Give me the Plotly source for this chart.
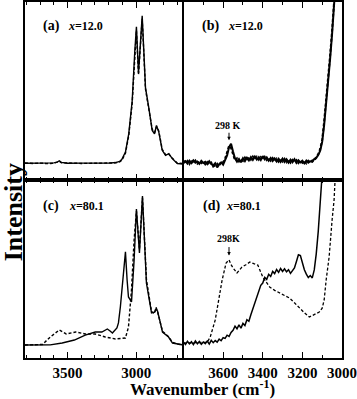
import plotly.graph_objects as go
from plotly.subplots import make_subplots

# ---------------- data ----------------
# panel (a): x=12.0, full range
a_w = [3810, 3750, 3700, 3650, 3600, 3575, 3560, 3545, 3500, 3400, 3300, 3200, 3150, 3120, 3105,
       3078, 3054, 3029, 3010, 2998, 2983, 2969, 2956, 2944, 2932, 2908, 2883, 2866, 2852, 2835,
       2810, 2786, 2762, 2737, 2700, 2655]
a_solid = [9.4, 9.5, 9.3, 9.4, 9.6, 10.0, 10.8, 9.9, 9.4, 9.5, 9.3, 9.5, 9.8, 10.5, 11.5,
           15.7, 25.9, 44.4, 72.2, 86.1, 60.2, 77.8, 92.2, 72.2, 51.9, 40.7, 27.8, 25.9, 30.6, 26.9,
           16.7, 13.9, 14.8, 12.0, 9.3, 9.0]
a_dash = [9.6, 9.3, 9.5, 9.2, 9.4, 9.9, 10.5, 9.7, 9.5, 9.3, 9.4, 9.3, 9.6, 10.2, 11.0,
          15.0, 25.0, 43.0, 70.5, 84.0, 59.0, 76.5, 90.5, 71.0, 51.0, 40.0, 28.5, 26.5, 30.0, 27.5,
          17.2, 14.2, 14.5, 12.3, 9.5, 9.2]

# panel (b): x=12.0, 3800-3000 region
b_w = [3800, 3790, 3780, 3770, 3760, 3750, 3740, 3730, 3720, 3710, 3700, 3690, 3680, 3670, 3660,
       3650, 3640, 3630, 3620, 3610, 3600, 3590, 3580, 3570, 3560, 3550, 3540, 3530, 3520, 3510,
       3500, 3490, 3480, 3470, 3460, 3450, 3440, 3430, 3420, 3410, 3400, 3390, 3380, 3370, 3360,
       3350, 3340, 3330, 3320, 3310, 3300, 3290, 3280, 3270, 3260, 3250, 3240, 3230, 3220, 3210,
       3200, 3190, 3180, 3170, 3160, 3150, 3140, 3130, 3120, 3110, 3100, 3090, 3080, 3070, 3060,
       3050, 3040, 3030]
b_solid = [9.8, 10.6, 9.2, 10.9, 9.5, 11.0, 9.7, 10.4, 9.1, 10.8, 9.6, 10.2, 8.9, 10.5, 9.0,
           8.2, 9.4, 7.1, 8.8, 9.9, 8.6, 11.2, 13.8, 18.5, 20.4, 16.0, 12.1, 10.3, 11.8, 10.0,
           12.2, 10.6, 12.5, 11.0, 12.9, 11.3, 13.1, 11.5, 12.8, 11.2, 13.4, 11.6, 12.7, 10.9, 12.4,
           10.7, 12.1, 10.4, 11.9, 10.2, 12.0, 10.1, 11.6, 9.8, 11.4, 10.0, 11.7, 9.6, 11.1, 9.9,
           10.8, 9.4, 10.9, 9.7, 10.5, 10.2, 11.8, 12.4, 14.0, 16.5, 21.5, 31.0, 42.0, 55.0, 68.0,
           82.0, 99.0, 115.0]
b_dash = [10.9, 9.3, 10.7, 9.0, 11.2, 9.4, 10.9, 9.2, 10.6, 9.5, 10.4, 8.8, 10.1, 8.7, 9.8,
          7.6, 8.3, 9.2, 7.8, 10.4, 10.0, 12.0, 15.5, 19.2, 18.0, 14.1, 11.0, 12.2, 10.4, 11.9,
          10.7, 12.6, 11.1, 13.0, 11.4, 13.2, 11.7, 13.5, 11.4, 12.9, 11.5, 13.0, 11.2, 12.6, 10.8,
          12.3, 10.6, 12.0, 10.3, 11.8, 10.4, 11.9, 10.0, 11.5, 9.7, 11.3, 9.9, 11.2, 9.5, 10.9,
          9.6, 10.7, 9.3, 10.8, 9.9, 11.0, 10.6, 12.9, 14.5, 17.5, 22.5, 33.0, 44.0, 57.0, 70.0,
          84.0, 100.0, 116.0]

# panel (c): x=80.1, full range
c_w_solid = [3810, 3700, 3626, 3539, 3450, 3371, 3298, 3250, 3210, 3190, 3173, 3140, 3129, 3115,
             3095, 3078, 3066, 3056, 3034, 3015, 2998, 2976, 2954, 2925, 2888, 2866, 2855, 2844,
             2808, 2764, 2735, 2700, 2655]
c_solid = [7.3, 7.3, 7.4, 8.4, 10.1, 12.9, 14.6, 14.6, 16.3, 15.2, 14.0, 16.9, 19.7, 28.7,
           43.8, 59.6, 43.8, 34.3, 31.5, 55.0, 83.7, 59.0, 91.0, 42.1, 25.3, 25.8, 27.5, 26.4,
           14.6, 11.8, 8.4, 7.9, 7.3]
c_w_dash = [3810, 3700, 3683, 3626, 3575, 3560, 3510, 3440, 3371, 3298, 3225, 3151, 3078, 3056,
            3034, 3015, 2998, 2976, 2954, 2925, 2888, 2866, 2855, 2844, 2808, 2764, 2735, 2700, 2655]
c_dash = [7.3, 7.3, 7.6, 11.8, 14.6, 15.7, 13.5, 14.6, 13.5, 13.5, 11.8, 10.7, 11.2, 17.4,
          38.2, 66.3, 82.5, 61.0, 90.0, 44.0, 26.0, 25.0, 28.5, 26.0, 15.0, 12.0, 8.8, 7.8, 7.3]

# panel (d): x=80.1, 3800-3000 region
d_w_solid = [3800, 3790, 3780, 3770, 3760, 3750, 3740, 3730, 3720, 3710, 3700, 3690, 3680, 3670,
             3660, 3650, 3640, 3630, 3620, 3610, 3600, 3590, 3580, 3570, 3560, 3550, 3540, 3530,
             3520, 3510, 3500, 3490, 3480, 3470, 3460, 3450, 3440, 3430, 3420, 3410, 3400, 3390,
             3380, 3370, 3360, 3350, 3340, 3330, 3320, 3310, 3300, 3290, 3280, 3270, 3260, 3250,
             3240, 3230, 3220, 3210, 3200, 3190, 3180, 3170, 3160, 3150, 3140, 3130, 3120, 3110,
             3100, 3090]
d_solid = [8.9, 7.6, 9.4, 7.9, 9.1, 7.5, 9.6, 8.0, 9.3, 7.7, 9.0, 8.1, 9.5, 7.8,
           9.9, 8.6, 9.8, 8.9, 10.6, 9.7, 11.4, 11.0, 12.8, 12.1, 14.4, 15.6, 17.9, 16.4,
           18.6, 16.8, 19.4, 18.2, 21.5, 20.6, 24.3, 27.5, 30.4, 34.6, 37.2, 40.8, 42.1, 45.3,
           44.2, 47.0, 45.8, 48.6, 47.4, 49.7, 48.1, 50.3, 48.6, 50.1, 48.4, 49.6, 47.5, 48.9,
           50.6, 54.2, 58.0, 57.5, 53.0, 49.6, 47.1, 45.2, 46.3, 45.0, 49.5, 58.5, 71.0, 87.0,
           104.0, 120.0]
d_w_dash = [3800, 3750, 3700, 3680, 3665, 3640, 3625, 3605, 3585, 3570, 3560, 3550, 3530, 3505,
            3485, 3465, 3445, 3425, 3400, 3380, 3365, 3340, 3315, 3290, 3265, 3240, 3215, 3190,
            3165, 3140, 3115, 3100, 3090, 3080, 3065, 3050, 3040, 3035, 3025]
d_dash = [8.4, 8.6, 8.4, 8.8, 11.8, 21.3, 30.9, 43.8, 53.4, 55.1, 52.5, 50.6, 47.8, 51.1,
          52.4, 53.9, 53.0, 52.2, 45.5, 42.0, 39.9, 38.0, 36.5, 35.2, 33.7, 31.0, 28.1, 25.4,
          23.0, 24.2, 25.8, 28.0, 32.6, 43.8, 56.7, 77.5, 88.8, 100.0, 115.0]

left_ticks = [3500, 3000]
right_ticks = [3600, 3400, 3200, 3000]

FONT = "Liberation Serif"

fig = make_subplots(rows=2, cols=2, horizontal_spacing=0, vertical_spacing=0)

def add(x, y, r, c, dash=False, w=1.4):
    fig.add_trace(go.Scatter(x=x, y=y, mode="lines", showlegend=False, hoverinfo="skip",
                             line=dict(color="black", width=w,
                                       dash="3px,2px" if dash else "solid")), row=r, col=c)

add(a_w, a_dash, 1, 1, dash=True)
add(a_w, a_solid, 1, 1)
add(b_w, b_dash, 1, 2, dash=True, w=2.0)
add(b_w, b_solid, 1, 2, w=2.0)
add(c_w_dash, c_dash, 2, 1, dash=True)
add(c_w_solid, c_solid, 2, 1)
add(d_w_dash, d_dash, 2, 2, dash=True, w=1.3)
add(d_w_solid, d_solid, 2, 2, w=1.5)

xcommon = dict(showline=True, linewidth=1.5, linecolor="black", mirror="ticks",
               ticks="inside", ticklen=6, tickwidth=1.2, tickcolor="black",
               showgrid=False, zeroline=False,
               tickfont=dict(family=FONT, size=15, color="black", weight="bold"),
               minor=dict(ticks="inside", ticklen=3.5, tickwidth=1, tickcolor="black",
                          dtick=100, showgrid=False))
ycommon = dict(showline=True, linewidth=1.5, linecolor="black",
               ticks="", showticklabels=False, showgrid=False, zeroline=False, range=[0, 100])

for r in (1, 2):
    fig.update_xaxes(xcommon, row=r, col=1)
    fig.update_xaxes(xcommon, row=r, col=2)
    fig.update_xaxes(range=[3810, 2655], tickvals=left_ticks, row=r, col=1)
    fig.update_xaxes(range=[3800, 3000], tickvals=right_ticks, row=r, col=2)
    fig.update_yaxes(ycommon, mirror=False, row=r, col=1)
    fig.update_yaxes(ycommon, mirror=True, row=r, col=2)
fig.update_xaxes(showticklabels=False, row=1)

L, T, PW, PH = 25, 0, 317, 358

def px(x):
    return (x - L) / PW

def py(y):
    return 1 - (y - T) / PH

ann = []
def txt(x, y, s, size, xanchor="left", angle=0):
    ann.append(dict(x=px(x), y=py(y), xref="paper", yref="paper", text=s, showarrow=False,
                    xanchor=xanchor, yanchor="middle", textangle=angle,
                    font=dict(family=FONT, size=size, color="black", weight="bold")))

txt(41, 24, "(a)", 14)
txt(66, 24, "<i>x</i>=12.0", 12)
txt(200, 24, "(b)", 14)
txt(226, 24, "<i>x</i>=12.0", 12)
txt(41, 205, "(c)", 14)
txt(67, 205, "<i>x</i>=80.1", 12)
txt(201, 205, "(d)", 14)
txt(224, 205, "<i>x</i>=80.1", 12)
txt(228, 124, "298 K", 10, xanchor="center")
txt(228, 238, "298K", 10, xanchor="center")
txt(203, 388, "Wavenumber (cm<sup>-1</sup>)", 17, xanchor="center")
txt(13.5, 212, "Intensity", 26, xanchor="center", angle=-90)

for (x, y0, y1) in [(229, 130, 139), (229, 245, 255)]:
    ann.append(dict(x=px(x), y=py(y1), xref="paper", yref="paper",
                    axref="pixel", ayref="pixel", ax=0, ay=-(y1 - y0), text="", showarrow=True,
                    arrowhead=2, arrowsize=0.7, arrowwidth=1, arrowcolor="black"))

fig.update_layout(width=357, height=399, margin=dict(l=L, r=15, t=T, b=41),
                  paper_bgcolor="white", plot_bgcolor="white", annotations=ann)

fig.write_html("out.html", config={"displayModeBar": False},
               post_script="document.body.style.margin='0';document.body.style.overflow='hidden';")
